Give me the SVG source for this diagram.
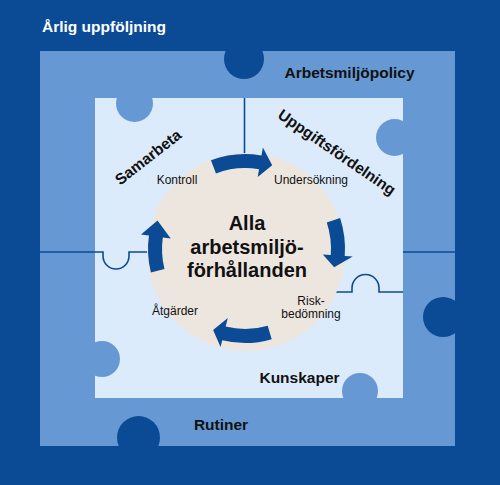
<svg xmlns="http://www.w3.org/2000/svg" width="500" height="485" viewBox="0 0 500 485">
<style>
.t{font-family:"Liberation Sans",Arial,sans-serif;fill:#111;}
.b{font-weight:bold;font-size:15.5px;}
.s{font-size:12px;}
.c{font-weight:bold;font-size:20px;text-anchor:middle;}
.dark{fill:#0b4b96;}
.mid{fill:#6699d4;}
.light{fill:#dcebfb;}
.ln{fill:none;stroke:#0b4b96;stroke-width:1.6;}
.arr{fill:#0b4b96;}
</style>
<g id="frame">
<rect class="dark" x="0" y="0" width="500" height="485"/>
<text class="t b" x="42" y="32" style="fill:#fff">Årlig uppföljning</text>
</g>
<g id="middle-band">
<rect class="mid" x="40" y="51" width="415" height="395"/>
<circle class="dark" cx="244" cy="59" r="20"/>
<circle class="dark" cx="443" cy="317" r="20"/>
<circle class="dark" cx="138.5" cy="437.5" r="21.5"/>
</g>
<g id="inner-area">
<rect class="light" x="95" y="98" width="308" height="300"/>
<circle class="mid" cx="134.5" cy="103.5" r="18.5"/>
<circle class="mid" cx="102" cy="359" r="18"/>
<circle class="mid" cx="394.5" cy="137.5" r="18.5"/>
<circle class="mid" cx="360" cy="391" r="18"/>
</g>
<g id="piece-lines">
<path class="ln" d="M244.5,98 V200"/>
<path class="ln" d="M40,252 H103 V256 A13,13 0 0 0 129,256 V252 H200"/>
<path class="ln" d="M300,292 H352 V288 A13.5,13.5 0 0 1 379,288 V292 H403"/>
<path class="ln" d="M403,252 H455"/>
</g>
<g id="center">
<circle cx="246" cy="252" r="99" fill="#ede6df"/>
<text class="t c" x="247" y="230">Alla</text>
<text class="t c" x="247" y="254">arbetsmiljö-</text>
<text class="t c" x="247" y="277">förhållanden</text>
</g>
<g id="connectors">
<path class="arr" d="M210.95,160.31 A95,95 0 0 1 261.50,155.44 L262.89,147.56 L272.19,165.31 L257.68,177.11 L259.07,169.23 A81,81 0 0 0 215.97,173.38 Z"/>
<path class="arr" d="M340.11,218.10 A100,100 0 0 1 344.76,255.98 L352.74,256.53 L334.17,267.14 L322.81,254.44 L330.79,255.00 A86,86 0 0 0 326.79,222.42 Z"/>
<path class="arr" d="M271.70,339.13 A94,94 0 0 1 222.26,340.21 L220.57,347.00 L213.11,329.95 L227.82,317.89 L225.65,326.62 A80,80 0 0 0 267.72,325.71 Z"/>
<path class="arr" d="M150.88,272.47 A97,97 0 0 1 148.94,235.50 L141.02,234.39 L157.50,220.57 L170.73,238.56 L162.81,237.45 A83,83 0 0 0 164.47,269.08 Z"/>
</g>
<g id="step-kontroll"><text class="t s" x="177" y="184" text-anchor="middle">Kontroll</text></g>
<g id="step-undersokning"><text class="t s" x="311" y="184" text-anchor="middle">Undersökning</text></g>
<g id="step-riskbedomning"><text class="t s" x="311" y="305" text-anchor="middle">Risk-</text><text class="t s" x="311" y="318" text-anchor="middle">bedömning</text></g>
<g id="step-atgarder"><text class="t s" x="175" y="315" text-anchor="middle">Åtgärder</text></g>
<g id="label-arbetsmiljopolicy"><text class="t b" x="349.5" y="78" text-anchor="middle">Arbetsmiljöpolicy</text></g>
<g id="label-samarbeta"><text class="t b" transform="translate(148,157) rotate(-38)" x="0" y="5.5" text-anchor="middle">Samarbeta</text></g>
<g id="label-uppgiftsfordelning"><text class="t b" transform="translate(337,152) rotate(34.5)" x="0" y="5.5" text-anchor="middle">Uppgiftsfördelning</text></g>
<g id="label-kunskaper"><text class="t b" x="299.5" y="383" text-anchor="middle">Kunskaper</text></g>
<g id="label-rutiner"><text class="t b" x="221" y="430" text-anchor="middle">Rutiner</text></g>
</svg>
